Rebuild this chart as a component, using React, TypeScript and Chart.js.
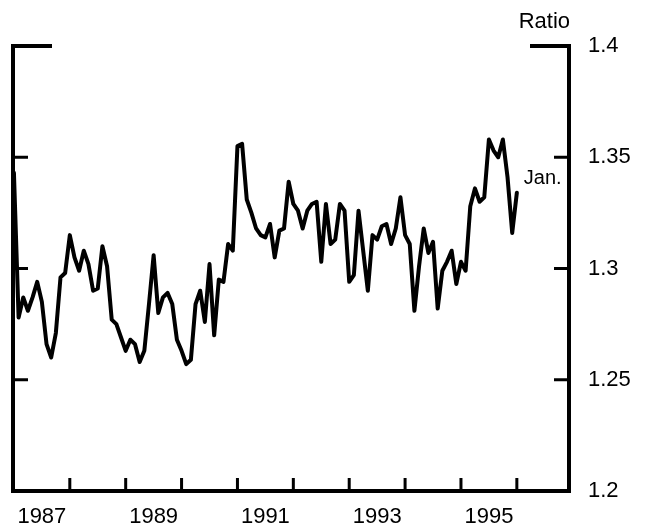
import React, { useEffect, useRef } from 'react';
import { Chart, registerables } from 'chart.js';

Chart.register(...registerables);

// Monthly ratio, Jan 1987 .. Jan 1996
const ratio: number[] = [
  1.343, 1.278, 1.287, 1.281, 1.287, 1.294, 1.285, 1.266, 1.260, 1.271, 1.296, 1.298,
  1.315, 1.305, 1.299, 1.308, 1.302, 1.290, 1.291, 1.310, 1.301, 1.277, 1.275, 1.269,
  1.263, 1.268, 1.266, 1.258, 1.263, 1.284, 1.306, 1.280, 1.287, 1.289, 1.284, 1.268,
  1.263, 1.257, 1.259, 1.284, 1.290, 1.276, 1.302, 1.270, 1.295, 1.294, 1.311, 1.308,
  1.355, 1.356, 1.331, 1.325, 1.318, 1.315, 1.314, 1.320, 1.305, 1.317, 1.318, 1.339,
  1.329, 1.326, 1.318, 1.326, 1.329, 1.330, 1.303, 1.329, 1.311, 1.313, 1.329, 1.326,
  1.294, 1.297, 1.326, 1.308, 1.290, 1.315, 1.313, 1.319, 1.320, 1.311, 1.318, 1.332,
  1.315, 1.311, 1.281, 1.301, 1.318, 1.307, 1.312, 1.282, 1.299, 1.303, 1.308, 1.293,
  1.303, 1.299, 1.328, 1.336, 1.330, 1.332, 1.358, 1.353, 1.350, 1.358, 1.341, 1.316,
  1.334,
];

const yearLabels: string[] = ['1987', '1989', '1991', '1993', '1995'];
const yearLabelMonths: number[] = [6, 30, 54, 78, 102];
const yearTickMonths: number[] = [12, 24, 36, 48, 60, 72, 84, 96, 108];
const yTicks: number[] = [1.2, 1.25, 1.3, 1.35, 1.4];
const yTickLabels: string[] = ['1.2', '1.25', '1.3', '1.35', '1.4'];
const axisTitle = 'Ratio';
const lastLabel = 'Jan.';

const FONT = '"Liberation Sans", Arial, Helvetica, sans-serif';

const framePlugin = {
  id: 'frameDecor',
  afterDraw(chart: any) {
    const { ctx, chartArea: a, scales } = chart;
    const xs = scales.x;
    const ys = scales.y;
    ctx.save();
    ctx.strokeStyle = '#000';
    ctx.lineWidth = 4;
    ctx.lineCap = 'butt';
    ctx.lineJoin = 'miter';
    ctx.beginPath();
    ctx.moveTo(a.left + 39, a.top);
    ctx.lineTo(a.left, a.top);
    ctx.lineTo(a.left, a.bottom);
    ctx.lineTo(a.right, a.bottom);
    ctx.lineTo(a.right, a.top);
    ctx.lineTo(a.right - 39, a.top);
    ctx.stroke();

    ctx.lineWidth = 3;
    ctx.beginPath();
    yTicks.slice(1, -1).forEach((v) => {
      const py = ys.getPixelForValue(v);
      ctx.moveTo(a.left, py);
      ctx.lineTo(a.left + 15, py);
      ctx.moveTo(a.right - 15, py);
      ctx.lineTo(a.right, py);
    });
    yearTickMonths.forEach((m) => {
      const px = xs.getPixelForValue(m);
      ctx.moveTo(px, a.bottom);
      ctx.lineTo(px, a.bottom - 13);
    });
    ctx.stroke();

    ctx.fillStyle = '#000';
    ctx.font = '22px ' + FONT;
    ctx.textAlign = 'right';
    ctx.textBaseline = 'alphabetic';
    ctx.fillText(axisTitle, a.right + 1, a.top - 18);

    const lastIdx = ratio.length - 1;
    const lx = xs.getPixelForValue(lastIdx);
    const ly = ys.getPixelForValue(ratio[lastIdx]);
    ctx.font = '20px ' + FONT;
    ctx.textAlign = 'left';
    ctx.fillText(lastLabel, lx + 7, ly - 9);
    ctx.restore();
  },
};

export default function App() {
  const canvasRef = useRef<HTMLCanvasElement | null>(null);

  useEffect(() => {
    if (!canvasRef.current) return;
    const chart = new Chart(canvasRef.current, {
      type: 'line',
      data: {
        datasets: [
          {
            data: ratio.map((v, i) => ({ x: i, y: v })),
            borderColor: '#000',
            borderWidth: 4,
            pointRadius: 0,
            tension: 0,
            fill: false,
            borderJoinStyle: 'round',
            borderCapStyle: 'round',
          },
        ],
      },
      options: {
        animation: false,
        responsive: true,
        maintainAspectRatio: false,
        layout: { padding: { left: 13, top: 46, right: 0, bottom: 0 } },
        plugins: {
          legend: { display: false },
          tooltip: { enabled: false },
        },
        scales: {
          x: {
            type: 'linear',
            min: -0.2,
            max: 119.2,
            grid: { display: false, drawTicks: false },
            border: { display: false },
            afterBuildTicks: (s: any) => {
              s.ticks = yearLabelMonths.map((v) => ({ value: v }));
            },
            afterFit: (s: any) => {
              s.height = 41;
            },
            ticks: {
              autoSkip: false,
              maxRotation: 0,
              minRotation: 0,
              padding: 13,
              color: '#000',
              font: { family: FONT, size: 22 },
              callback: (_v: any, i: number) => yearLabels[i],
            },
          },
          y: {
            position: 'right',
            min: 1.2,
            max: 1.4,
            grid: { display: false, drawTicks: false },
            border: { display: false },
            afterBuildTicks: (s: any) => {
              s.ticks = yTicks.map((v) => ({ value: v }));
            },
            afterFit: (s: any) => {
              s.width = 81;
            },
            ticks: {
              padding: 19,
              color: '#000',
              font: { family: FONT, size: 22 },
              callback: (_v: any, i: number) => yTickLabels[i],
            },
          },
        },
      },
      plugins: [framePlugin],
    });
    return () => chart.destroy();
  }, []);

  return (
    <div style={{ position: 'fixed', left: 0, top: 0, width: 650, height: 532, background: '#fff' }}>
      <canvas ref={canvasRef} />
    </div>
  );
}
